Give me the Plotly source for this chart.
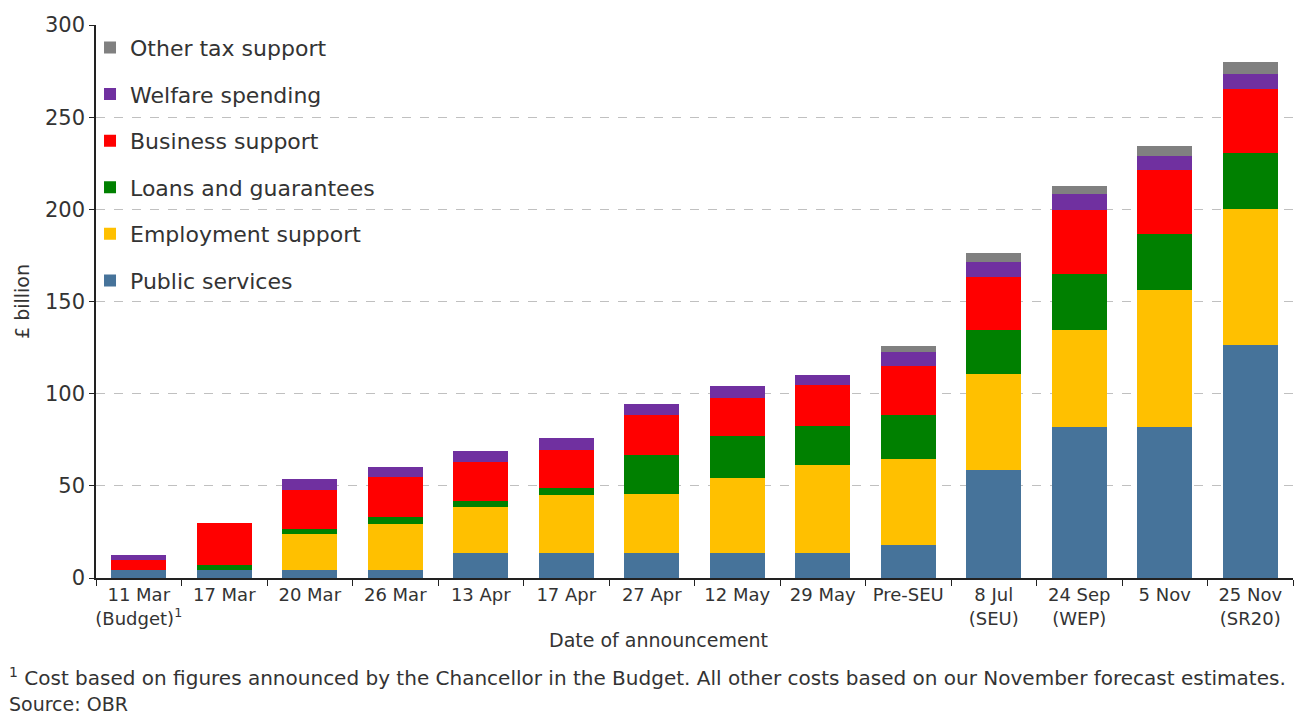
import plotly.graph_objects as go

categories = ["11 Mar<br>(Budget)<sup>1</sup>", "17 Mar", "20 Mar", "26 Mar", "13 Apr", "17 Apr",
              "27 Apr", "12 May", "29 May", "Pre-SEU", "8 Jul<br>(SEU)", "24 Sep<br>(WEP)",
              "5 Nov", "25 Nov<br>(SR20)"]

public_services = [4.3, 4.3, 4.3, 4.3, 13.7, 13.5, 13.4, 13.4, 13.4, 17.9, 58.6, 81.9, 81.9, 126.5]
employment_support = [0, 0, 19.6, 25.0, 24.7, 31.6, 32.0, 41.0, 47.9, 46.7, 52.2, 52.6, 74.4, 73.9]
loans_guarantees = [0, 3.0, 2.7, 3.6, 3.6, 3.6, 21.3, 22.8, 21.3, 23.8, 23.7, 30.2, 30.5, 30.2]
business_support = [5.5, 22.4, 21.1, 21.7, 21.1, 20.6, 21.7, 20.3, 22.1, 26.6, 28.9, 35.1, 34.5, 34.9]
welfare_spending = [2.7, 0, 5.8, 5.4, 5.9, 6.5, 5.8, 6.8, 5.4, 7.4, 7.9, 8.4, 7.8, 8.0]
other_tax_support = [0, 0, 0, 0, 0, 0, 0, 0, 0, 3.6, 5.2, 4.7, 5.2, 6.2]

series = [
    ("Public services", public_services, "#46739A"),
    ("Employment support", employment_support, "#FFC000"),
    ("Loans and guarantees", loans_guarantees, "#008000"),
    ("Business support", business_support, "#FF0000"),
    ("Welfare spending", welfare_spending, "#7030A0"),
    ("Other tax support", other_tax_support, "#808080"),
]

FONT = "DejaVu Sans"
TXT = "#333333"

fig = go.Figure()
n = len(series)
for i, (name, vals, col) in enumerate(series):
    fig.add_trace(go.Bar(x=categories, y=vals, name=name, marker_color=col,
                         marker_line_width=0, legendgroup=f"g{i}", legendrank=n - i))

fig.update_layout(
    barmode="stack",
    bargap=0.355,
    width=1301, height=715,
    margin=dict(l=96, r=8, t=25, b=137),
    plot_bgcolor="white", paper_bgcolor="white",
    font=dict(family=FONT, color=TXT),
    legend=dict(x=-0.005, y=0.997, xanchor="left", yanchor="top",
                traceorder="grouped", tracegroupgap=15,
                font=dict(family=FONT, size=22, color=TXT),
                bgcolor="rgba(0,0,0,0)"),
    yaxis=dict(range=[0, 300], tick0=0, dtick=50, showgrid=True,
               gridcolor="#c0c0c0", griddash="dash", gridwidth=1,
               showline=True, linecolor="#222222", linewidth=1.5,
               ticks="outside", ticklen=5, tickcolor="#222222",
               tickfont=dict(size=21, color=TXT), zeroline=False,
               title=dict(text="£ billion", font=dict(size=19, color=TXT), standoff=10)),
    xaxis=dict(showline=True, linecolor="#222222", linewidth=1.5,
               ticks="outside", ticklen=6, tickcolor="#222222", tickson="boundaries",
               tickfont=dict(size=18, color=TXT), tickangle=0),
)

fig.add_annotation(text="Date of announcement", xref="paper", yref="paper",
                   x=0.47, y=-0.088, xanchor="center", yanchor="top", showarrow=False,
                   font=dict(size=19, color=TXT, family=FONT))
fig.add_annotation(text="<sup>1</sup> Cost based on figures announced by the Chancellor in the Budget. All other costs based on our November forecast estimates.",
                   xref="paper", yref="paper", x=-0.074, y=-0.152, xanchor="left", yanchor="top",
                   showarrow=False, font=dict(size=20, color=TXT, family=FONT), align="left")
fig.add_annotation(text="Source: OBR",
                   xref="paper", yref="paper", x=-0.074, y=-0.204, xanchor="left", yanchor="top",
                   showarrow=False, font=dict(size=19, color=TXT, family=FONT), align="left")

fig.write_html("out.html")
